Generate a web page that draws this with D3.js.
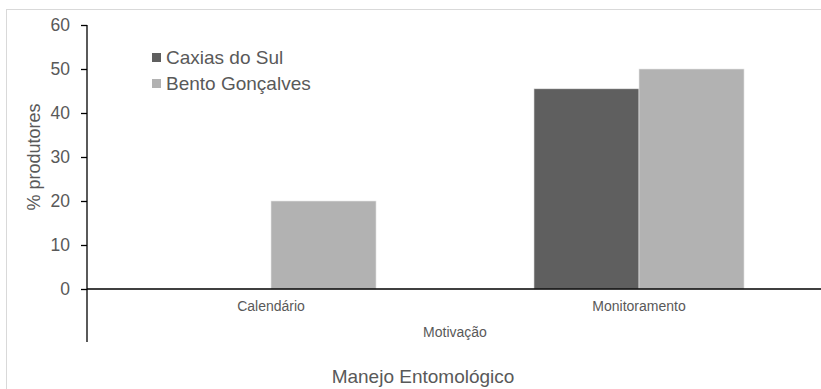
<!DOCTYPE html>
<html>
<head>
<meta charset="utf-8">
<script src="https://cdn.jsdelivr.net/npm/d3@7"></script>
<style>
  body { margin: 0; background: #fff; }
  svg { display: block; font-family: "Liberation Sans", Arial, sans-serif; }
</style>
</head>
<body>
<svg width="821" height="389"></svg>
<script>
var categories = ["Calendário", "Monitoramento"];
var keys = ["Caxias do Sul", "Bento Gonçalves"];
var caxias = [0, 45.5];
var bento = [20, 50];
var yTicks = [0, 10, 20, 30, 40, 50, 60];

var svg = d3.select("svg");

// chart frame
svg.append("rect")
  .attr("x", 6.5).attr("y", 9.5)
  .attr("width", 830).attr("height", 400)
  .attr("fill", "none")
  .attr("stroke", "#d9d9d9");

var plotLeft = 87, plotRight = 823, plotTop = 25, plotBottom = 289;

var x0 = d3.scaleBand().domain(categories).range([plotLeft, plotRight]);
var x1 = d3.scaleBand().domain(keys).range([0, x0.bandwidth()]).paddingOuter(0.752);
var y = d3.scaleLinear().domain([0, 60]).range([plotBottom, plotTop]);
var z = d3.scaleOrdinal().domain(keys).range(["#5f5f5f", "#b2b2b2"]);

var data = categories.map(function(c, i) {
  return {cat: c, values: [{key: keys[0], value: caxias[i]}, {key: keys[1], value: bento[i]}]};
});

var g = svg.append("g");

g.selectAll("g.grp")
  .data(data)
  .enter().append("g")
  .attr("class", "grp")
  .attr("transform", function(d) { return "translate(" + x0(d.cat) + ",0)"; })
  .selectAll("rect")
  .data(function(d) { return d.values.filter(function(v) { return v.value > 0; }); })
  .enter().append("rect")
  .attr("x", function(d) { return x1(d.key); })
  .attr("y", function(d) { return y(d.value); })
  .attr("width", x1.bandwidth())
  .attr("height", function(d) { return y(0) - y(d.value); })
  .attr("fill", function(d) { return z(d.key); })
  .attr("stroke", "#e6e6e6")
  .attr("stroke-width", 0.6);

// y axis
var yAxis = g.append("g")
  .attr("transform", "translate(" + plotLeft + ",0)")
  .call(d3.axisLeft(y).tickValues(yTicks).tickSize(6).tickPadding(11));
yAxis.select(".domain").remove();
yAxis.selectAll("line").attr("stroke", "#000").attr("stroke-width", 1.3);
yAxis.selectAll("text").attr("font-size", 17.5).attr("fill", "#595959")
  .attr("font-family", "Liberation Sans, Arial, sans-serif");

// vertical axis line, extended down for the multi-level category area
g.append("line")
  .attr("x1", plotLeft).attr("x2", plotLeft)
  .attr("y1", y(60)).attr("y2", 342)
  .attr("stroke", "#000").attr("stroke-width", 1.3);

// x axis
g.append("line")
  .attr("x1", plotLeft).attr("x2", plotRight)
  .attr("y1", y(0)).attr("y2", y(0))
  .attr("stroke", "#000").attr("stroke-width", 1.3);

g.selectAll("text.cat")
  .data(categories)
  .enter().append("text")
  .attr("class", "cat")
  .attr("x", function(d) { return x0(d) + x0.bandwidth() / 2; })
  .attr("y", 311)
  .attr("text-anchor", "middle")
  .attr("font-size", 14)
  .attr("fill", "#595959")
  .text(function(d) { return d; });

g.append("text")
  .attr("x", (plotLeft + plotRight) / 2)
  .attr("y", 337)
  .attr("text-anchor", "middle")
  .attr("font-size", 14)
  .attr("fill", "#595959")
  .text("Motivação");

// x title
svg.append("text")
  .attr("x", 423)
  .attr("y", 383)
  .attr("text-anchor", "middle")
  .attr("font-size", 19)
  .attr("fill", "#595959")
  .text("Manejo Entomológico");

// y title
svg.append("text")
  .attr("transform", "translate(40," + 157 + ") rotate(-90)")
  .attr("text-anchor", "middle")
  .attr("font-size", 18)
  .attr("fill", "#595959")
  .text("% produtores");

// legend
var legend = svg.append("g")
  .selectAll("g")
  .data(keys)
  .enter().append("g")
  .attr("transform", function(d, i) { return "translate(152," + (57.5 + i * 26) + ")"; });

legend.append("rect")
  .attr("x", 0).attr("y", -4.5)
  .attr("width", 9).attr("height", 9)
  .attr("fill", z);

legend.append("text")
  .attr("x", 14)
  .attr("y", 0)
  .attr("dy", "0.35em")
  .attr("font-size", 19)
  .attr("fill", "#595959")
  .text(function(d) { return d; });
</script>
</body>
</html>
